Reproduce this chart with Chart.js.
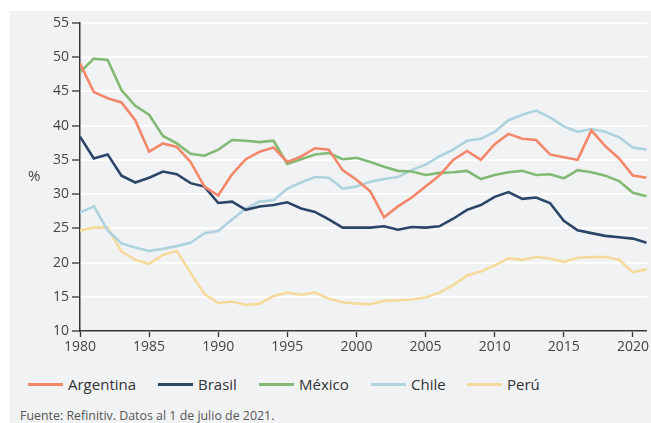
<!DOCTYPE html>
<html>
<head>
<meta charset="utf-8">
<script src="https://cdn.jsdelivr.net/npm/chart.js@4"></script>
<style>
  html, body { margin:0; padding:0; background:#ffffff; width:651px; height:423px; overflow:hidden; font-family:'Open Sans', sans-serif; }
  #panel { position:absolute; left:10px; top:11px; width:641px; height:412px; background:#f1f2f4; }
  #wrap { position:absolute; left:0; top:0; width:651px; height:360px; }
  #ylab { position:absolute; left:28px; top:165px; font-size:15px; color:#444; }
  #legend { position:absolute; left:0; top:373px; width:651px; height:22px; font-size:15px; color:#333; }
  .item { position:absolute; top:0; display:flex; align-items:center; height:22px; }
  .swatch { width:35px; height:3px; margin-right:5px; }
  #source { position:absolute; left:20px; top:407px; font-size:12.4px; color:#555; white-space:nowrap; }
</style>
</head>
<body>
<div id="panel"></div>
<div id="wrap"><canvas id="c" width="651" height="360"></canvas></div>
<div id="ylab">%</div>
<div id="legend"></div>
<div id="source">Fuente: Refinitiv. Datos al 1 de julio de 2021.</div>
<script>
const years = [];
for (let y = 1980; y <= 2021; y++) years.push(y);

const seriesNames = ['Argentina', 'Brasil', 'México', 'Chile', 'Perú'];
const seriesColors = ['#f4866a', '#2b4568', '#82ba74', '#aed2de', '#f5da9c'];

const argentina = [49.1,44.9,44.0,43.4,40.8,36.2,37.4,36.9,34.7,31.1,29.8,32.9,35.1,36.2,36.8,34.7,35.5,36.7,36.5,33.5,32.1,30.4,26.6,28.2,29.5,31.1,32.7,35.0,36.3,35.0,37.3,38.8,38.1,37.9,35.8,35.4,35.0,39.3,37.0,35.2,32.7,32.4];
const brasil = [38.4,35.2,35.8,32.7,31.7,32.4,33.3,32.9,31.6,31.1,28.7,28.9,27.7,28.2,28.4,28.8,27.9,27.4,26.3,25.1,25.1,25.1,25.3,24.8,25.2,25.1,25.3,26.4,27.7,28.4,29.6,30.3,29.3,29.5,28.7,26.1,24.7,24.3,23.9,23.7,23.5,22.9];
const mexico = [47.8,49.8,49.6,45.2,42.9,41.6,38.5,37.4,35.9,35.6,36.5,37.9,37.8,37.6,37.8,34.4,35.1,35.8,36.0,35.1,35.3,34.7,34.0,33.4,33.3,32.8,33.1,33.2,33.4,32.2,32.8,33.2,33.4,32.8,32.9,32.3,33.5,33.2,32.7,31.9,30.2,29.7];
const chile = [27.3,28.2,24.7,22.8,22.2,21.7,22.0,22.4,22.9,24.3,24.6,26.3,27.9,28.9,29.1,30.8,31.7,32.5,32.4,30.8,31.1,31.8,32.2,32.5,33.5,34.3,35.5,36.5,37.8,38.1,39.1,40.8,41.6,42.2,41.2,39.9,39.1,39.5,39.1,38.3,36.8,36.5];
const peru = [24.7,25.1,25.1,21.6,20.4,19.8,21.1,21.7,18.5,15.4,14.1,14.3,13.8,14.0,15.1,15.6,15.3,15.6,14.7,14.2,14.0,13.9,14.4,14.5,14.6,14.9,15.6,16.7,18.1,18.7,19.6,20.6,20.4,20.8,20.6,20.1,20.7,20.8,20.8,20.4,18.6,19.0];

const seriesValues = [argentina, brasil, mexico, chile, peru];

const yMin = 10, yMax = 55, yStep = 5;
const xMin = 1980, xMax = 2021, xStep = 5;

// legend item left edges (layout only)
const legendLefts = [28, 158, 259, 371, 467];

const datasets = seriesNames.map((name, i) => ({
  label: name,
  data: years.map((yr, j) => ({ x: yr, y: seriesValues[i][j] })),
  borderColor: seriesColors[i],
  backgroundColor: seriesColors[i],
  borderWidth: 2.6,
  pointRadius: 0,
  tension: 0,
  fill: false,
  order: i
}));

const font = { family: "'Open Sans', sans-serif", size: 14 };

new Chart(document.getElementById('c'), {
  type: 'line',
  data: { datasets },
  options: {
    responsive: false,
    animation: false,
    layout: { padding: { top: 23, right: 4, bottom: 0, left: 0 } },
    plugins: { legend: { display: false }, tooltip: { enabled: false } },
    scales: {
      x: {
        type: 'linear',
        min: xMin, max: xMax,
        ticks: { stepSize: xStep, includeBounds: false, color: '#444', font, padding: 2, maxRotation: 0,
                 callback: v => String(v) },
        grid: { drawOnChartArea: false, tickColor: '#333', tickLength: 6, tickWidth: 1.3 },
        border: { color: '#333', width: 1.5 },
        afterFit: s => { s.height = 29; }
      },
      y: {
        min: yMin, max: yMax,
        ticks: { stepSize: yStep, color: '#444', font, padding: 3 },
        grid: { color: '#ffffff', lineWidth: 2, tickColor: '#333', tickLength: 8, tickWidth: 1.3 },
        border: { color: '#333', width: 1.5 },
        afterFit: s => { s.width = 80; }
      }
    }
  }
});

const legend = document.getElementById('legend');
seriesNames.forEach((name, i) => {
  const it = document.createElement('div');
  it.className = 'item';
  it.style.left = legendLefts[i] + 'px';
  const sw = document.createElement('div');
  sw.className = 'swatch';
  sw.style.background = seriesColors[i];
  const tx = document.createElement('span');
  tx.textContent = name;
  it.appendChild(sw); it.appendChild(tx);
  legend.appendChild(it);
});
</script>
</body>
</html>
